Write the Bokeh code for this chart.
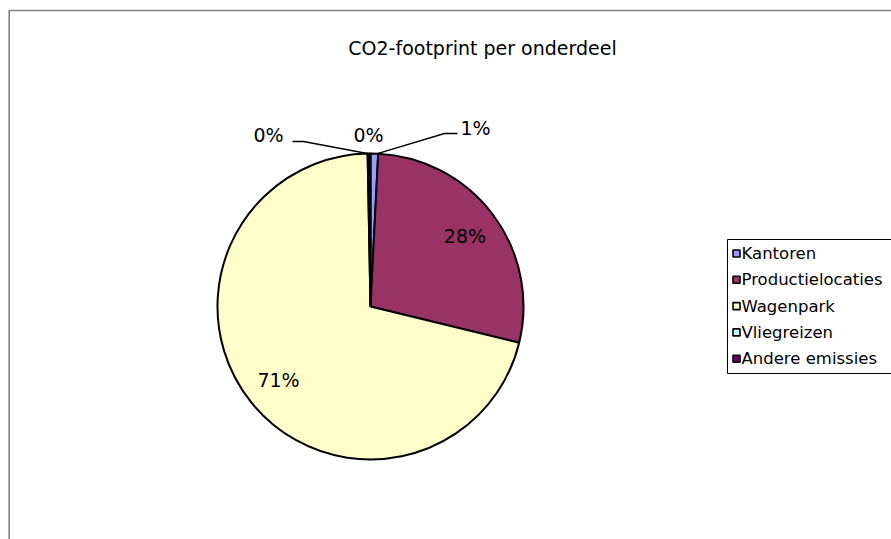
import numpy as np
from bokeh.plotting import figure
from bokeh.models import Range1d
from bokeh.embed import file_html
from bokeh.resources import INLINE
from bokeh.core.properties import value

# ---- data ----
title = "CO2-footprint per onderdeel"
categories = ["Kantoren", "Productielocaties", "Wagenpark", "Vliegreizen", "Andere emissies"]
shares = [0.8, 28.0, 70.9, 0.15, 0.15]
pct_labels = ["1%", "28%", "71%", "0%", "0%"]
colors = ["#9999FF", "#993366", "#FFFFCC", "#CCFFFF", "#660066"]

# ---- layout ----
W, H = 891, 539
FONT = value("DejaVu Sans")


def fx(px):
    return px


def fy(py):
    return H - py


CX, CY, R = fx(370), fy(306), 153

p = figure(width=W, height=H, x_range=Range1d(0, W), y_range=Range1d(0, H),
           output_backend="svg", toolbar_location=None, min_border=0,
           x_axis_location=None, y_axis_location=None)
p.grid.visible = False
p.outline_line_color = None
p.background_fill_color = "white"
p.border_fill_color = "white"

# chart area frame (extends beyond window)
p.quad(left=fx(8.7), right=fx(960), top=fy(10), bottom=fy(600),
       fill_color="white", line_color="#808080", line_width=1.6)

# pie
frac = np.array(shares) / np.sum(shares)
cum = np.concatenate([[0.0], np.cumsum(frac)])
start = np.pi / 2 - 2 * np.pi * cum[:-1]
end = np.pi / 2 - 2 * np.pi * cum[1:]
p.wedge(x=CX, y=CY, radius=R, start_angle=start, end_angle=end, direction="clock",
        fill_color=colors, line_color="black", line_width=2)

mid = (cum[:-1] + cum[1:]) / 2
theta = np.pi / 2 - 2 * np.pi * mid

# inside labels for large slices, outside with leaders for small ones
inside_x, inside_y, inside_t = [], [], []
out_pos = {0: (460, 127, "left"), 3: (268, 134.5, "center"), 4: (368, 134, "center")}
leader_knee = {0: ((457, 133), (444, 133)), 3: ((292, 141), (303, 141))}
lx, ly = [], []
ox, oy, ot, oa = [], [], [], []
for i, f in enumerate(frac):
    if f > 0.05:
        inside_x.append(CX + 0.77 * R * np.cos(theta[i]))
        inside_y.append(CY + 0.77 * R * np.sin(theta[i]))
        inside_t.append(pct_labels[i])
    else:
        px_, py_, al = out_pos[i]
        ox.append(fx(px_)); oy.append(fy(py_)); ot.append(pct_labels[i]); oa.append(al)
        if i in leader_knee:
            a, b = leader_knee[i]
            ax_ = CX + R * np.cos(theta[i]) + (3 if i == 0 else -1)
            ay_ = CY + R * np.sin(theta[i])
            lx.append([fx(a[0]), fx(b[0]), ax_])
            ly.append([fy(a[1]), fy(b[1]), ay_])

p.multi_line(xs=lx, ys=ly, line_color="black", line_width=1.4)
p.text(x=inside_x, y=inside_y, text=inside_t, text_align="center", text_baseline="middle",
       text_font=FONT, text_font_size="19px", text_color="black")
p.text(x=ox, y=oy, text=ot, text_align=oa, text_baseline="middle",
       text_font=FONT, text_font_size="19px", text_color="black")

# title
p.text(x=[fx(482)], y=[fy(47)], text=[title], text_align="center", text_baseline="middle",
       text_font=FONT, text_font_size="19px", text_color="black")

# legend
p.quad(left=fx(727), right=fx(960), top=fy(239), bottom=fy(373),
       fill_color="white", line_color="black", line_width=1)
n = len(categories)
ly0, dly = 253, 26.3
leg_y = [fy(ly0 + dly * i) for i in range(n)]
p.rect(x=[fx(736)] * n, y=leg_y, width=7, height=7, fill_color=colors,
       line_color="black", line_width=1.6)
p.text(x=[fx(741)] * n, y=leg_y, text=categories, text_align="left", text_baseline="middle",
       text_font=FONT, text_font_size="16.5px", text_color="black")

open("out.html", "w").write(file_html(p, INLINE))
